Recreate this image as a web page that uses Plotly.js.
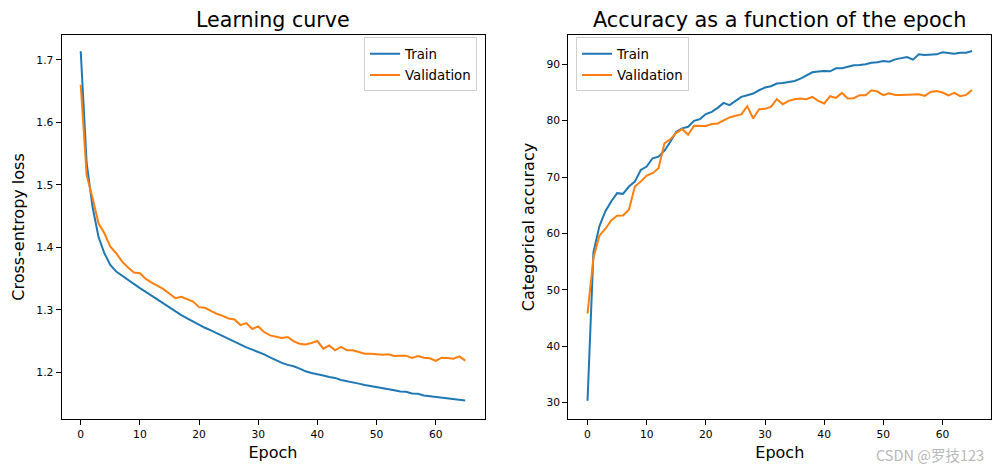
<!DOCTYPE html>
<html>
<head>
<meta charset="utf-8">
<script src="https://cdn.plot.ly/plotly-3.0.1.min.js"></script>
<style>html,body{margin:0;padding:0;background:#fff;}#chart{width:1001px;height:472px;}</style>
</head>
<body>
<div id="chart"></div>
<script>
const epochs = Array.from({length: 66}, (_, i) => i);

const trainLoss = [1.7137, 1.535, 1.4645, 1.417, 1.3906, 1.372, 1.3613, 1.3544, 1.348, 1.3416,
  1.3348, 1.3289, 1.3225, 1.3161, 1.3097, 1.3033, 1.297, 1.2917, 1.2863, 1.281,
  1.2757, 1.2714, 1.2671, 1.2624, 1.2582, 1.2534, 1.2491, 1.2443, 1.24, 1.2364,
  1.2332, 1.2289, 1.2241, 1.2195, 1.2152, 1.212, 1.2098, 1.206, 1.2018, 1.1992,
  1.1965, 1.1949, 1.1928, 1.1912, 1.188, 1.1864, 1.1848, 1.1821, 1.18, 1.1785,
  1.1762, 1.1747, 1.1737, 1.1715, 1.1694, 1.1689, 1.1662, 1.1657, 1.163, 1.1619,
  1.1603, 1.1593, 1.1587, 1.1566, 1.1566, 1.155];

const valLoss = [1.660, 1.5155, 1.479, 1.4384, 1.4225, 1.401, 1.3906, 1.3772, 1.3677, 1.3597,
  1.3587, 1.3496, 1.3437, 1.3384, 1.3332, 1.3257, 1.3188, 1.321, 1.3177, 1.3134,
  1.3044, 1.3033, 1.2985, 1.2937, 1.2905, 1.2863, 1.2847, 1.2757, 1.2789, 1.2694,
  1.2735, 1.2646, 1.2592, 1.2574, 1.255, 1.2566, 1.2496, 1.2459, 1.2448, 1.247,
  1.2502, 1.238, 1.2432, 1.2353, 1.2407, 1.2353, 1.2353, 1.2327, 1.23, 1.23,
  1.2289, 1.2284, 1.2289, 1.2263, 1.2268, 1.2268, 1.2231, 1.2263, 1.2236, 1.2225,
  1.2184, 1.2236, 1.2231, 1.222, 1.2257, 1.2188];

const trainAcc = [30.34, 56.67, 61.26, 63.9, 65.67, 67.15, 67.03, 68.32, 69.2, 71.27,
  71.86, 73.34, 73.63, 74.68, 76.27, 78.04, 78.64, 78.92, 79.98, 80.28,
  81.17, 81.57, 82.28, 83.16, 82.76, 83.52, 84.22, 84.52, 84.82, 85.4,
  85.88, 86.11, 86.59, 86.7, 86.87, 87.05, 87.47, 88.06, 88.59, 88.71,
  88.82, 88.76, 89.29, 89.29, 89.52, 89.82, 89.88, 90.0, 90.29, 90.35,
  90.58, 90.47, 90.88, 91.06, 91.29, 90.83, 91.77, 91.64, 91.71, 91.77,
  92.12, 92.0, 91.89, 92.07, 92.07, 92.35];

const valAcc = [45.78, 55.67, 59.61, 60.8, 62.32, 63.14, 63.2, 64.2, 68.32, 69.2,
  70.27, 70.69, 71.57, 75.98, 76.7, 77.86, 78.52, 77.5, 79.1, 79.1,
  79.05, 79.4, 79.52, 80.05, 80.58, 80.87, 81.11, 82.58, 80.4, 82.05,
  82.1, 82.46, 83.82, 82.93, 83.52, 83.82, 83.94, 83.82, 84.22, 83.52,
  83.06, 84.35, 84.05, 84.93, 83.94, 83.99, 84.52, 84.52, 85.4, 85.17,
  84.52, 84.88, 84.58, 84.58, 84.58, 84.64, 84.7, 84.4, 85.11, 85.28,
  85.0, 84.47, 84.93, 84.35, 84.58, 85.46];

const seriesNames = ['Train', 'Validation'];
const colors = ['#1f77b4', '#ff7f0e'];
const subplotTitles = ['Learning curve', 'Accuracy as a function of the epoch'];
const yTitles = ['Cross-entropy loss', 'Categorical accuracy'];
const xTitle = 'Epoch';
const xTicks = [0, 10, 20, 30, 40, 50, 60];
const lossTicks = [1.2, 1.3, 1.4, 1.5, 1.6, 1.7];
const accTicks = [30, 40, 50, 60, 70, 80, 90];

const FONT = 'DejaVu Sans, Liberation Sans, sans-serif';

function line(x, y, name, color, xa, ya, legend, group) {
  return {x: x, y: y, name: name, type: 'scatter', mode: 'lines',
    line: {color: color, width: 2}, xaxis: xa, yaxis: ya, legend: legend, legendgroup: group};
}

const data = [
  line(epochs, trainLoss, seriesNames[0], colors[0], 'x', 'y', 'legend', 'a'),
  line(epochs, valLoss, seriesNames[1], colors[1], 'x', 'y', 'legend', 'b'),
  line(epochs, trainAcc, seriesNames[0], colors[0], 'x2', 'y2', 'legend2', 'c'),
  line(epochs, valAcc, seriesNames[1], colors[1], 'x2', 'y2', 'legend2', 'd')
];

const axBase = {
  showgrid: false, zeroline: false, showline: true, linecolor: '#000', linewidth: 1,
  mirror: true, ticks: 'outside', ticklen: 5, tickwidth: 1, tickcolor: '#000',
  tickfont: {family: FONT, size: 10.7, color: '#000'}, automargin: false
};

const legendBase = {
  bgcolor: 'rgba(255,255,255,0.8)', bordercolor: '#d0d0d0', borderwidth: 1,
  font: {family: FONT, size: 13.3, color: '#000'}, itemwidth: 30,
  traceorder: 'grouped', tracegroupgap: 1
};

const layout = {
  width: 1001, height: 472,
  margin: {l: 0, r: 0, t: 34.5, b: 52.5},
  paper_bgcolor: '#fff', plot_bgcolor: '#fff',
  font: {family: FONT, color: '#000'},
  xaxis: Object.assign({}, axBase, {domain: [61.5/1001, 484.5/1001], range: [-3.25, 68.25],
    tickvals: xTicks, anchor: 'y',
    title: {text: xTitle, font: {family: FONT, size: 16, color: '#000'}, standoff: 6}}),
  yaxis: Object.assign({}, axBase, {domain: [0, 1], range: [1.1255, 1.7396],
    tickvals: lossTicks, ticktext: lossTicks.map(v => v.toFixed(1)), anchor: 'x',
    title: {text: yTitles[0], font: {family: FONT, size: 16, color: '#000'}, standoff: 7}}),
  xaxis2: Object.assign({}, axBase, {domain: [568.3/1001, 991.3/1001], range: [-3.25, 68.25],
    tickvals: xTicks, anchor: 'y2',
    title: {text: xTitle, font: {family: FONT, size: 16, color: '#000'}, standoff: 6}}),
  yaxis2: Object.assign({}, axBase, {domain: [0, 1], range: [27.1, 95.2],
    tickvals: accTicks, anchor: 'x2',
    title: {text: yTitles[1], font: {family: FONT, size: 16, color: '#000'}, standoff: 7}}),
  legend: Object.assign({}, legendBase, {x: 477/1001, xanchor: 'right', y: (419.5-37)/385, yanchor: 'top'}),
  legend2: Object.assign({}, legendBase, {x: 576/1001, xanchor: 'left', y: (419.5-37)/385, yanchor: 'top'}),
  showlegend: true,
  annotations: [
    {text: subplotTitles[0], xref: 'paper', yref: 'paper', x: 273/1001, y: (419.5-19)/385,
     xanchor: 'center', yanchor: 'middle', showarrow: false,
     font: {family: FONT, size: 20.6, color: '#000'}},
    {text: subplotTitles[1], xref: 'paper', yref: 'paper', x: 779.8/1001, y: (419.5-19)/385,
     xanchor: 'center', yanchor: 'middle', showarrow: false,
     font: {family: FONT, size: 20.8, color: '#000'}},
    {text: 'CSDN @罗技123', xref: 'paper', yref: 'paper', x: 986/1001, y: (419.5-455)/385,
     xanchor: 'right', yanchor: 'middle', showarrow: false,
     font: {family: 'Noto Sans CJK SC, sans-serif', size: 14.5, color: '#b8b8b8'}}
  ]
};

Plotly.newPlot('chart', data, layout, {displayModeBar: false, staticPlot: true});
</script>
</body>
</html>
